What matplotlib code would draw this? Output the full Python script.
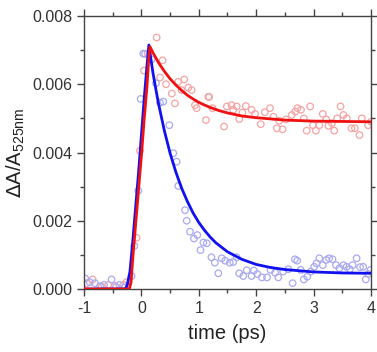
import numpy as np
import matplotlib
matplotlib.use("Agg")
import matplotlib.pyplot as plt
from matplotlib.ticker import MultipleLocator

plt.rcParams['font.family'] = ['Liberation Sans', 'DejaVu Sans']
plt.rcParams['axes.unicode_minus'] = False

# scatter data (time in ps, dA/A)
red_t = [-0.95, -0.85, -0.69, -0.58, -0.46, -0.315, -0.26, -0.083, -0.024, 0.045, 0.11,
         0.266, 0.324, 0.37, 0.43, 0.53, 0.585, 0.64, 0.70, 0.747, 0.817, 0.876, 0.934,
         0.963, 1.125, 1.166, 1.18, 1.24, 1.44, 1.49, 1.57, 1.6, 1.66, 1.705, 1.76, 1.82,
         1.92, 1.98, 2.08, 2.15, 2.24, 2.30, 2.36, 2.40, 2.46, 2.52, 2.62, 2.68, 2.72,
         2.78, 2.83, 2.88, 2.94, 2.99, 3.04, 3.10, 3.16, 3.22, 3.26, 3.32, 3.36, 3.41,
         3.47, 3.52, 3.58, 3.66, 3.72, 3.80, 3.84, 3.95, 4.0]
red_v = [0.00017, 0.00028, 0.00007, 0.00012, 0.00009, 0.00012, 0.0002, 0.0015, 0.00405,
         0.0064, 0.0069, 0.00737, 0.0062, 0.0067, 0.0060, 0.00573, 0.00544, 0.00607,
         0.00583, 0.00614, 0.0059, 0.00583, 0.00539, 0.0053, 0.00495, 0.00563, 0.00563,
         0.0053, 0.00476, 0.00535, 0.00539, 0.00525, 0.00535, 0.00498, 0.00517, 0.00536,
         0.00525, 0.00513, 0.00483, 0.00518, 0.0053, 0.00505, 0.00471, 0.00493, 0.00468,
         0.00497, 0.0051, 0.0052, 0.0053, 0.00525, 0.0050, 0.00464, 0.00535, 0.0048,
         0.00464, 0.0048, 0.00513, 0.00497, 0.00478, 0.00486, 0.00464, 0.0050, 0.00535,
         0.0051, 0.0050, 0.00471, 0.00471, 0.00451, 0.0050, 0.0048, 0.0049]

blue_t = [-0.98, -0.9, -0.81, -0.72, -0.65, -0.52, -0.44, -0.385, -0.3, -0.17, -0.124,
          -0.054, -0.013, 0.033, 0.063, 0.179, 0.254, 0.324, 0.38, 0.486, 0.556, 0.614,
          0.643, 0.76, 0.79, 0.847, 0.916, 0.974, 1.03, 1.08, 1.14, 1.22, 1.28, 1.34,
          1.40, 1.46, 1.54, 1.60, 1.66, 1.705, 1.775, 1.835, 1.92, 1.96, 2.02, 2.10,
          2.19, 2.25, 2.33, 2.385, 2.47, 2.56, 2.635, 2.675, 2.715, 2.775, 2.83, 2.89,
          2.95, 3.01, 3.05, 3.10, 3.16, 3.22, 3.27, 3.33, 3.39, 3.45, 3.52, 3.575,
          3.63, 3.68, 3.75, 3.81, 3.865, 3.91, 3.95, 3.995]
blue_v = [0.00031, 0.0002, 0.00017, 0.00008, 0.00012, 0.00028, 0.00006, 0.00012,
          0.00005, 0.00038, 0.00126, 0.00288, 0.00557, 0.0069, 0.00689, 0.00673,
          0.00603, 0.00546, 0.00549, 0.0048, 0.00398, 0.00373, 0.00302, 0.00231,
          0.0020, 0.00168, 0.00148, 0.00158, 0.00114, 0.00136, 0.00134, 0.00093,
          0.00077, 0.00046, 0.0009, 0.00083, 0.00077, 0.00079, 0.00093, 0.00046,
          0.00038, 0.00055, 0.00038, 0.00054, 0.00044, 0.00034, 0.00034, 0.00056,
          0.00048, 0.00034, 0.00051, 0.00058, 0.00017, 0.00087, 0.00083, 0.00056,
          0.00028, 0.00036, 0.00051, 0.00065, 0.00075, 0.0009, 0.0007, 0.00085,
          0.0009, 0.00087, 0.0007, 0.00061, 0.0007, 0.00065, 0.00058, 0.0007, 0.0009,
          0.00064, 0.00065, 0.00028, 0.00044, 0.00056]

# fit curves
red_fit_t = [-1.0, -0.21, -0.18, -0.15, -0.1, -0.05, 0.0, 0.05, 0.1, 0.13, 0.15, 0.2,
             0.25, 0.3, 0.4, 0.5, 0.6, 0.7, 0.8, 0.9, 1.0, 1.1, 1.2, 1.35, 1.5, 1.75,
             2.0, 2.5, 3.0, 3.5, 4.0]
red_fit_v = [0.0, 0.0, 0.0002, 0.0009, 0.0019, 0.0029, 0.0039, 0.0050, 0.0060, 0.0068,
             0.0071, 0.00693, 0.00678, 0.00663, 0.00638, 0.00616, 0.00598, 0.00582,
             0.00568, 0.00557, 0.00547, 0.00539, 0.00532, 0.00523, 0.00516, 0.00507,
             0.00502, 0.00495, 0.00492, 0.00491, 0.0049]
blue_fit_t = [-1.0, -0.28, -0.25, -0.2, -0.15, -0.1, -0.05, 0.0, 0.05, 0.1, 0.13, 0.2,
              0.25, 0.3, 0.4, 0.5, 0.6, 0.7, 0.8, 0.9, 1.0, 1.1, 1.2, 1.3, 1.5, 1.75,
              2.0, 2.25, 2.5, 3.0, 3.5, 4.0]
blue_fit_v = [0.0, 0.0, 0.0001, 0.0005, 0.0014, 0.0024, 0.0034, 0.0045, 0.0056, 0.0066,
              0.00715, 0.00635, 0.00587, 0.00542, 0.00464, 0.00398, 0.00343, 0.00296,
              0.00257, 0.00223, 0.00195, 0.00172, 0.00152, 0.00135, 0.00109, 0.00087,
              0.00072, 0.00063, 0.00057, 0.0005, 0.00047, 0.00046]

fig = plt.figure(figsize=(3.77, 3.52), dpi=100)
ax = fig.add_axes([0.2228, 0.179, 0.7612, 0.7755])

ax.scatter(red_t, red_v, s=22, facecolors='none', edgecolors='#f5a3a3', linewidths=0.9, zorder=2)
ax.scatter(blue_t, blue_v, s=22, facecolors='none', edgecolors='#a9a9f2', linewidths=0.9, zorder=2)
ax.plot(blue_fit_t, blue_fit_v, color='#1010f0', lw=2.0, zorder=3)
ax.plot(red_fit_t, red_fit_v, color='#f01010', lw=2.0, zorder=4)

ax.set_xlim(-1, 4)
ax.set_ylim(0, 0.008)
ax.xaxis.set_major_locator(MultipleLocator(1))
ax.xaxis.set_minor_locator(MultipleLocator(0.5))
ax.yaxis.set_major_locator(MultipleLocator(0.002))
ax.yaxis.set_minor_locator(MultipleLocator(0.001))
ax.yaxis.set_major_formatter(plt.FormatStrFormatter('%.3f'))

for s in ax.spines.values():
    s.set_color('#444444')
    s.set_linewidth(1.0)
ax.tick_params(which='both', direction='out', top=True, right=True, color='#444444',
               labelsize=11.5, labelcolor='#333333')
ax.tick_params(which='major', length=5, width=1.0)
ax.tick_params(which='minor', length=3, width=1.0)

ax.set_xlabel('time (ps)', fontsize=14.5, color='#222222', labelpad=6)
ax.set_ylabel(r'$\Delta$A/A$_{\mathregular{525nm}}$', fontsize=14.5, color='#222222', labelpad=4)

fig.savefig('out.png', dpi=100)
